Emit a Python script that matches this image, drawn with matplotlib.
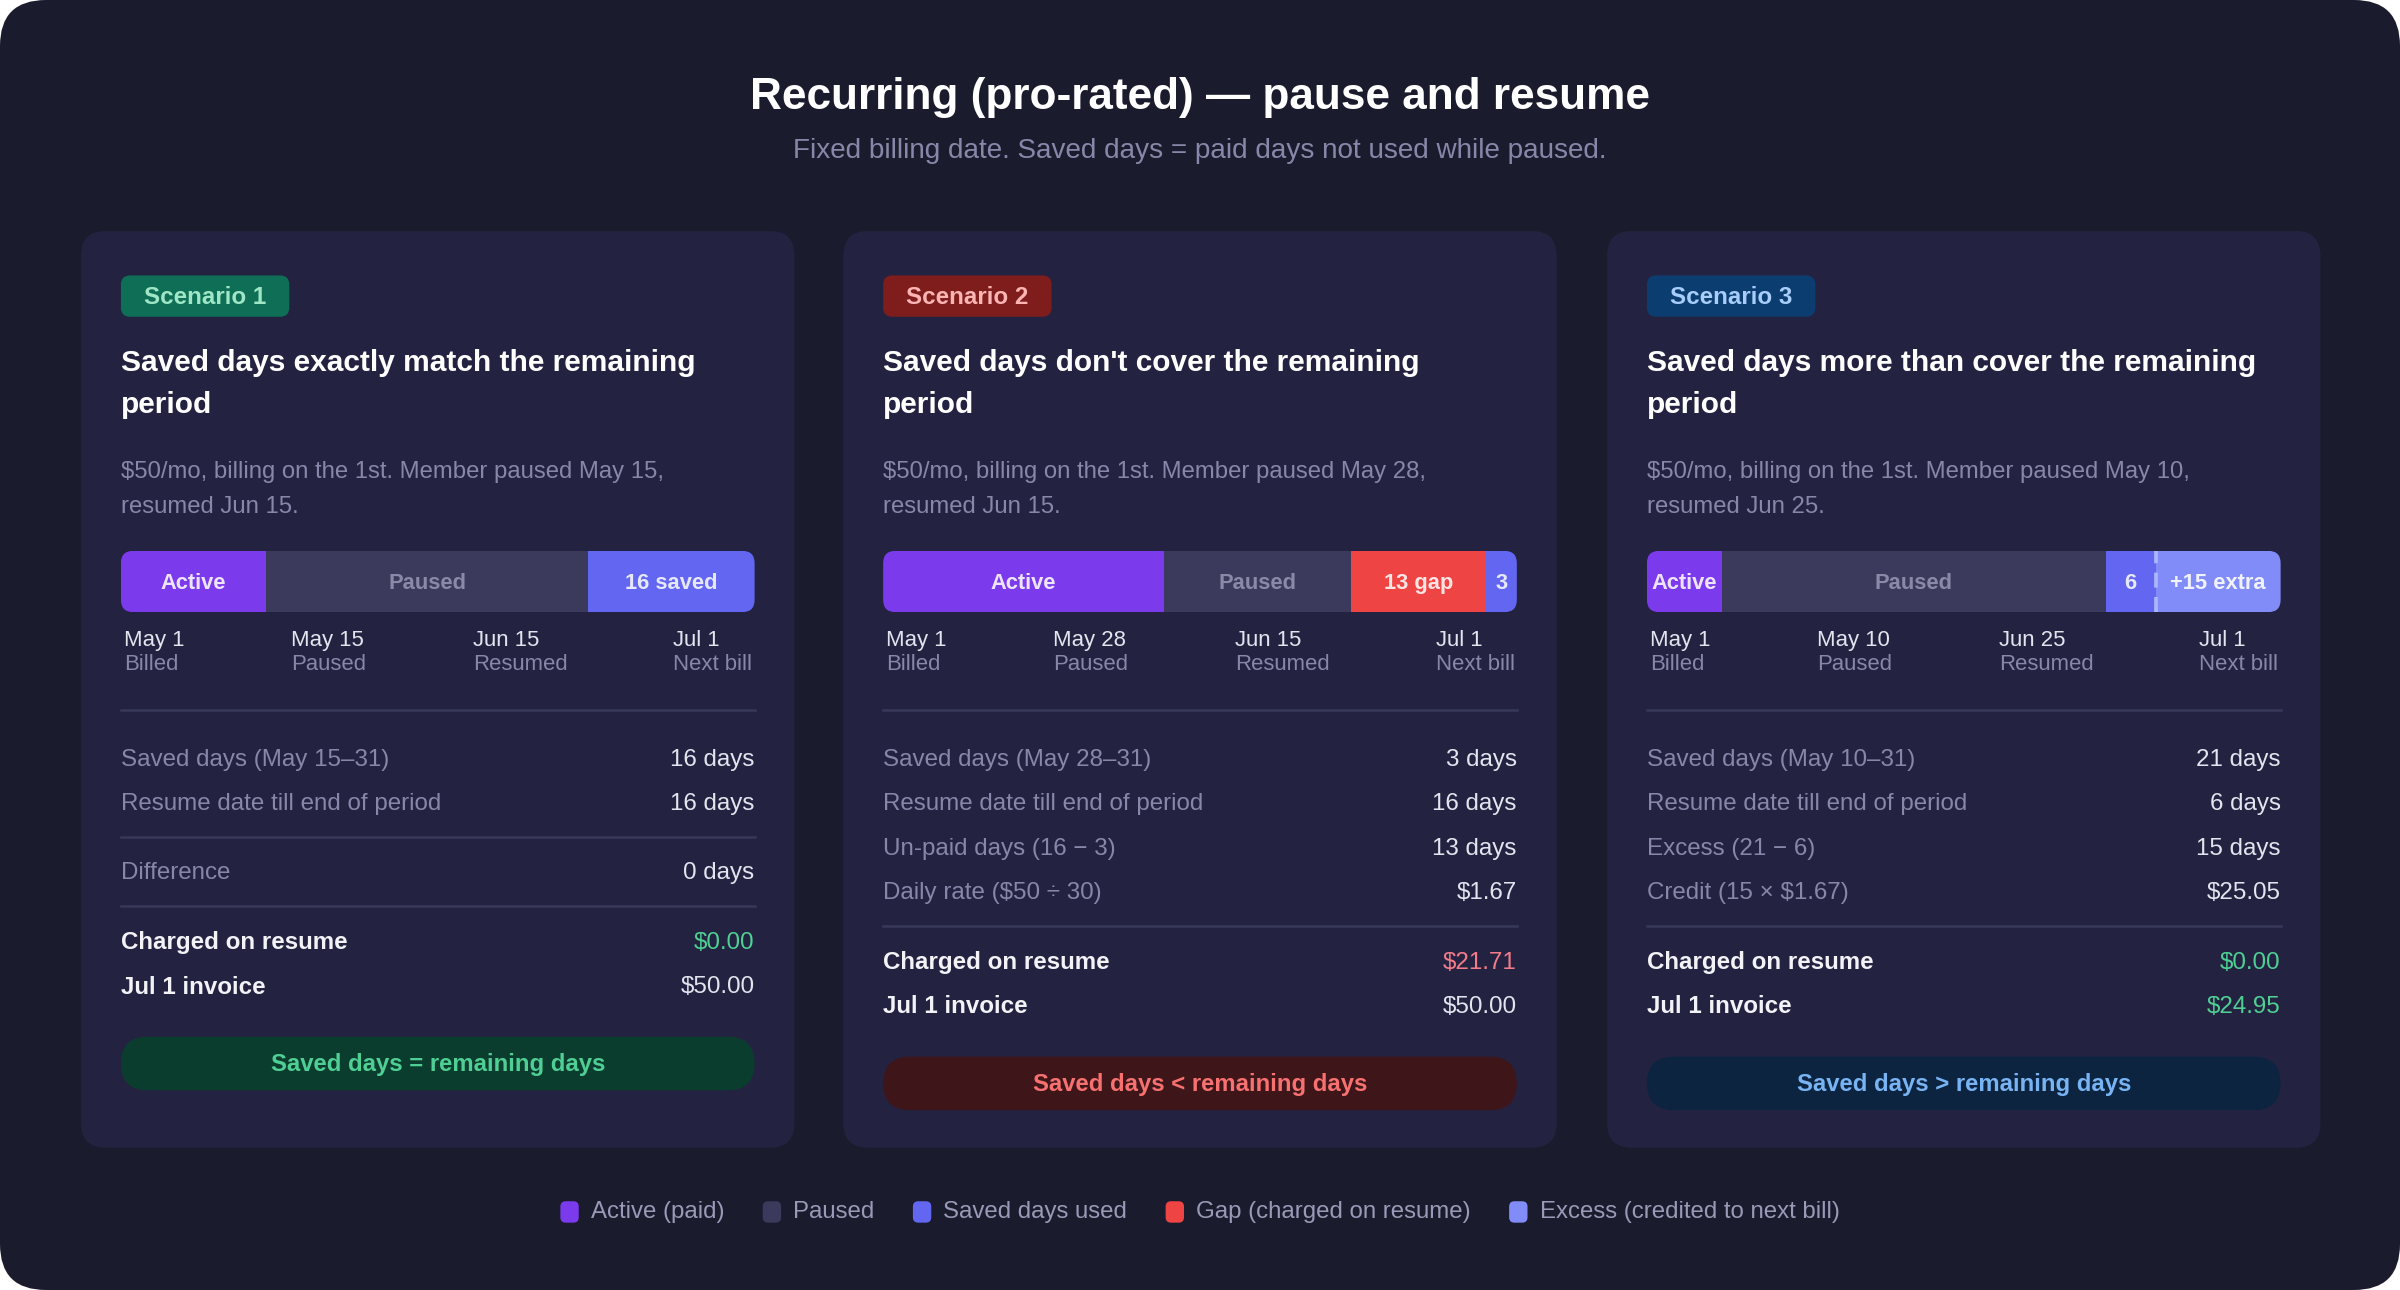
import matplotlib
matplotlib.use("Agg")
import matplotlib.pyplot as plt
from matplotlib.patches import FancyBboxPatch

plt.rcParams['font.family'] = ['Liberation Sans', 'DejaVu Sans']

# ---- data ----
title = "Recurring (pro-rated) \u2014 pause and resume"
subtitle = "Fixed billing date. Saved days = paid days not used while paused."

scenario_names = ["Scenario 1", "Scenario 2", "Scenario 3"]
headings = [
    ["Saved days exactly match the remaining", "period"],
    ["Saved days don't cover the remaining", "period"],
    ["Saved days more than cover the remaining", "period"],
]
descriptions = [
    ["$50/mo, billing on the 1st. Member paused May 15,", "resumed Jun 15."],
    ["$50/mo, billing on the 1st. Member paused May 28,", "resumed Jun 15."],
    ["$50/mo, billing on the 1st. Member paused May 10,", "resumed Jun 25."],
]
seg_kinds = [
    ["active", "paused", "saved"],
    ["active", "paused", "gap", "saved"],
    ["active", "paused", "saved", "extra"],
]
seg_days = [
    [14, 31, 16],
    [27, 18, 13, 3],
    [9, 46, 6, 15],
]
seg_labels = [
    ["Active", "Paused", "16 saved"],
    ["Active", "Paused", "13 gap", "3"],
    ["Active", "Paused", "6", "+15 extra"],
]
timeline_dates = [
    ["May 1", "May 15", "Jun 15", "Jul 1"],
    ["May 1", "May 28", "Jun 15", "Jul 1"],
    ["May 1", "May 10", "Jun 25", "Jul 1"],
]
timeline_events = ["Billed", "Paused", "Resumed", "Next bill"]
detail_groups = [
    [[("Saved days (May 15\u201331)", "16 days"), ("Resume date till end of period", "16 days")],
     [("Difference", "0 days")]],
    [[("Saved days (May 28\u201331)", "3 days"), ("Resume date till end of period", "16 days"),
      ("Un-paid days (16 \u2212 3)", "13 days"), ("Daily rate ($50 \u00f7 30)", "$1.67")]],
    [[("Saved days (May 10\u201331)", "21 days"), ("Resume date till end of period", "6 days"),
      ("Excess (21 \u2212 6)", "15 days"), ("Credit (15 \u00d7 $1.67)", "$25.05")]],
]
charged = ["$0.00", "$21.71", "$0.00"]
charged_kind = ["good", "bad", "good"]
invoice = ["$50.00", "$50.00", "$24.95"]
invoice_kind = ["plain", "plain", "good"]
verdicts = ["Saved days = remaining days", "Saved days < remaining days", "Saved days > remaining days"]

legend_labels = ["Active (paid)", "Paused", "Saved days used", "Gap (charged on resume)",
                 "Excess (credited to next bill)"]
legend_kinds = ["active", "paused", "saved", "gap", "extra"]

# ---- styles ----
BG = "#1b1b2e"
CARD = "#232341"
DIV = "#38385a"
MUTED = "#8787aa"
LIGHT = "#e4e4ef"
seg_colors = {"active": "#7c3aed", "paused": "#3b3a5c", "saved": "#6366f1",
              "gap": "#ef4444", "extra": "#818cf8"}
seg_text = {"active": "#ede4ff", "paused": "#8a8aa8", "saved": "#e6e8ff",
            "gap": "#ffe4e4", "extra": "#f0f2ff"}
badge_bg = ["#0f6e56", "#7f1d1d", "#0c3d70"]
badge_fg = ["#9fe6c6", "#fcb4b4", "#a8cdfb"]
pill_bg = ["#0b3d2e", "#3e1519", "#0c2440"]
pill_fg = ["#4fcf94", "#f87171", "#78b4f4"]
value_colors = {"good": "#4fcf94", "bad": "#f47c8a", "plain": LIGHT}

W, H = 1568, 843
PX = 0.7347  # display px -> points
TY = 2       # small downward nudge so text centres sit like the reference

fig = plt.figure(figsize=(16, 8.6), dpi=150, facecolor="white")
ax = fig.add_axes([0, 0, 1, 1])
ax.set_xlim(0, W)
ax.set_ylim(H, 0)
ax.axis("off")


def txt(x, y, s, size, color, weight="normal", ha="left"):
    return ax.text(x, y + TY, s, ha=ha, va="center", color=color,
                   fontsize=size * PX, fontweight=weight)


ax.add_patch(FancyBboxPatch((0, 0), W, H, boxstyle="round,pad=0,rounding_size=30",
                            fc=BG, ec="none"))

txt(W / 2, 62, title, 28.8, "white", "bold", "center")
txt(W / 2, 97, subtitle, 18.2, MUTED, ha="center")

card_x = [53, 551, 1050]
card_w = 466
pad = 26
cw = card_w - 2 * pad

for i in range(3):
    x0 = card_x[i]
    cx = x0 + pad
    ax.add_patch(FancyBboxPatch((x0, 151), card_w, 599, boxstyle="round,pad=0,rounding_size=16",
                                fc=CARD, ec="none"))
    # badge
    ax.add_patch(FancyBboxPatch((cx, 180), 110, 27, boxstyle="round,pad=0,rounding_size=6",
                                fc=badge_bg[i], ec="none"))
    txt(cx + 55, 192.5, scenario_names[i], 15.8, badge_fg[i], "bold", "center")
    # heading + description
    for j, line in enumerate(headings[i]):
        txt(cx, 235.5 + 27 * j, line, 19.5, "white", "bold")
    for j, line in enumerate(descriptions[i]):
        txt(cx, 306.5 + 23 * j, line, 15.6, MUTED)

    # timeline bar
    by, bh = 360, 40
    bax = fig.add_axes([cx / W, 1 - (by + bh) / H, cw / W, bh / H])
    bax.axis("off")
    total = sum(seg_days[i])
    bax.set_xlim(0, total)
    bax.set_ylim(-0.5, 0.5)
    clip = FancyBboxPatch((cx, by), cw, bh, boxstyle="round,pad=0,rounding_size=8",
                          transform=ax.transData, fc="none", ec="none")
    starts = [sum(seg_days[i][:k]) for k in range(len(seg_days[i]))]
    bars = bax.barh(0, seg_days[i], left=starts, height=1,
                    color=[seg_colors[k] for k in seg_kinds[i]], linewidth=0)
    for b in bars:
        b.set_clip_path(clip)
    for s, d, lab, kind in zip(starts, seg_days[i], seg_labels[i], seg_kinds[i]):
        bax.text(s + d / 2, -0.03, lab, ha="center", va="center", color=seg_text[kind],
                 fontsize=14.3 * PX, fontweight="bold")
        if kind == "extra":
            ln = bax.axvline(s, color="#aab6fd", lw=1.8, ls=(0, (4, 2.5)))
            ln.set_clip_path(clip)

    # dates under bar
    date_off = [2, 111, 230, 361]
    for k in range(4):
        txt(cx + date_off[k], 416.5, timeline_dates[i][k], 14.5, LIGHT)
        txt(cx + date_off[k], 432.5, timeline_events[k], 14.5, MUTED)

    ax.plot([cx, cx + cw], [464, 464], color=DIV, lw=1.2)
    y = 494.5
    for g, group in enumerate(detail_groups[i]):
        if g > 0:
            y += 22
        for lab, val in group:
            txt(cx, y, lab, 15.8, MUTED)
            txt(cx + cw, y, val, 15.8, LIGHT, ha="right")
            y += 29
        y -= 29
        y += 23
        ax.plot([cx, cx + cw], [y + 0.5, y + 0.5], color=DIV, lw=1.2)
    y += 22.5
    txt(cx, y, "Charged on resume", 15.8, "#f2f2f7", "bold")
    txt(cx + cw, y, charged[i], 15.8, value_colors[charged_kind[i]], ha="right")
    y += 29
    txt(cx, y, "Jul 1 invoice", 15.8, "#f2f2f7", "bold")
    txt(cx + cw, y, invoice[i], 15.8, value_colors[invoice_kind[i]], ha="right")
    y += 34.5
    ax.add_patch(FancyBboxPatch((cx, y), cw, 35, boxstyle="round,pad=0,rounding_size=17.5",
                                fc=pill_bg[i], ec="none"))
    txt(cx + cw / 2, y + 16, verdicts[i], 15.6, pill_fg[i], "bold", "center")

# legend, laid out from measured text widths and centred
fig.canvas.draw()
renderer = fig.canvas.get_renderer()
inv = ax.transData.inverted()
items = []
total_w = 0
gap = 25
for lab in legend_labels:
    t = txt(0, 790, lab, 15.7, "#9a9ab8")
    bb = t.get_window_extent(renderer)
    w = inv.transform((bb.x1, 0))[0] - inv.transform((bb.x0, 0))[0]
    items.append((t, w))
    total_w += 20 + w
total_w += gap * (len(items) - 1)
x = W / 2 - total_w / 2
for (t, w), kind in zip(items, legend_kinds):
    ax.add_patch(FancyBboxPatch((x, 785), 12, 14, boxstyle="round,pad=0,rounding_size=3.5",
                                fc=seg_colors[kind], ec="none"))
    t.set_x(x + 20)
    x += 20 + w + gap

fig.savefig("out.png", dpi=150, facecolor="white")
